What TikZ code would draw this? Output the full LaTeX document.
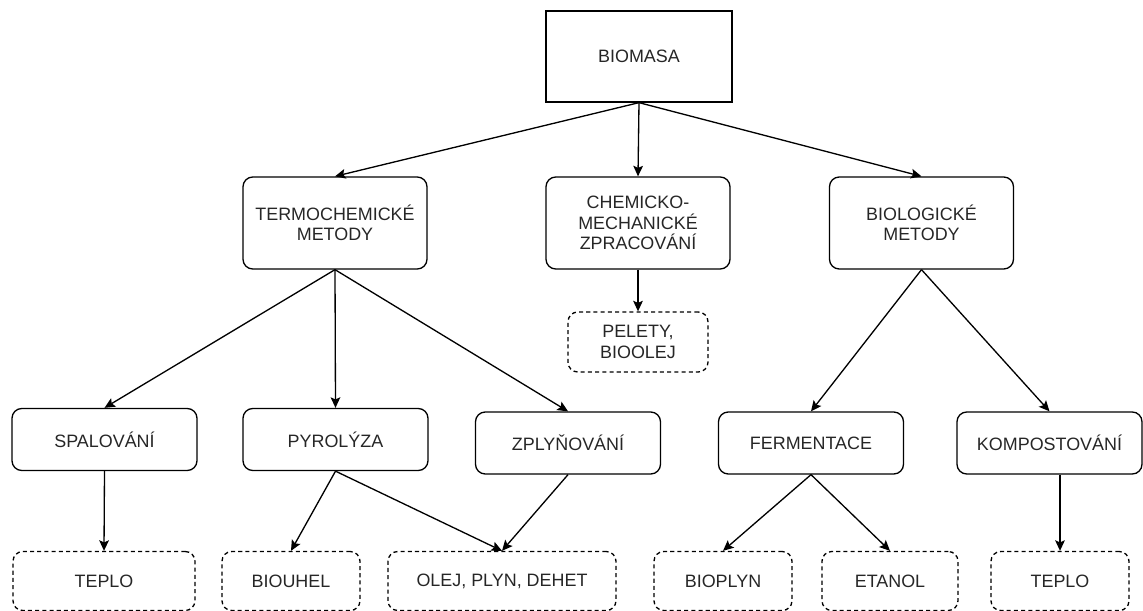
\documentclass[tikz,border=0pt]{standalone}
\usepackage{fontspec}
\setmainfont{Liberation Sans}
\usepackage{tikz}
\usetikzlibrary{arrows.meta}

\begin{document}
\begin{tikzpicture}[x=0.02cm, y=-0.02cm,
        every node/.style={font=\fontsize{10.2pt}{11.6pt}\selectfont, align=center, text=black!85, inner sep=0pt},
        topbox/.style={draw, line width=0.75pt, minimum width=3.72cm, minimum height=1.82cm},
        methodbox/.style={draw, line width=0.75pt, rounded corners=5.5pt, minimum width=3.68cm, minimum height=1.84cm},
        processbox/.style={draw, line width=0.75pt, rounded corners=5.5pt, minimum width=3.7cm, minimum height=1.24cm},
        productbox/.style={draw, dashed, dash pattern=on 2.3pt off 1.8pt, line width=0.75pt, rounded corners=5.5pt, minimum width=2.76cm, minimum height=1.18cm},
        arr/.style={-{Stealth[length=6pt, width=5.5pt, inset=1.2pt]}, line width=0.75pt}]
        \useasboundingbox (0,0) rectangle (1143,611);
        % top
        \node[topbox] (biomasa) at (639,56.5) {BIOMASA};
        % methods
        \node[methodbox] (termo) at (335,223) {TERMOCHEMICKÉ\\METODY};
        \node[methodbox] (chem) at (638,223) {CHEMICKO-\\MECHANICKÉ\\ZPRACOVÁNÍ};
        \node[methodbox] (biol) at (921.5,223) {BIOLOGICKÉ\\METODY};
        \node[productbox, minimum width=2.8cm, minimum height=1.2cm] (pelety) at (638,342) {PELETY,\\BIOOLEJ};
        % processes
        \node[processbox] (spal) at (104.5,439.5) {SPALOVÁNÍ};
        \node[processbox] (pyro) at (335.5,439.5) {PYROLÝZA};
        \node[processbox] (zply) at (568,443) {ZPLYŇOVÁNÍ};
        \node[processbox] (ferm) at (811,443) {FERMENTACE};
        \node[processbox] (komp) at (1049.5,443) {KOMPOSTOVÁNÍ};
        % products
        \node[productbox, minimum width=3.64cm] (teplo) at (104,581) {TEPLO};
        \node[productbox] (biouhel) at (291,581) {BIOUHEL};
        \node[productbox, minimum width=4.56cm] (olej) at (502,581) {OLEJ, PLYN, DEHET};
        \node[productbox] (bioplyn) at (723,581) {BIOPLYN};
        \node[productbox, minimum width=2.72cm] (etanol) at (890,581) {ETANOL};
        \node[productbox] (teplob) at (1060,581) {TEPLO};
        % connectors
        \draw[arr] (biomasa.south) -- (termo.north);
        \draw[arr] (biomasa.south) -- (chem.north);
        \draw[arr] (biomasa.south) -- (biol.north);
        \draw[arr] (chem.south) -- (pelety.north);
        \draw[arr] (termo.south) -- (spal.north);
        \draw[arr] (termo.south) -- (pyro.north);
        \draw[arr] (termo.south) -- (zply.north);
        \draw[arr] (biol.south) -- (ferm.north);
        \draw[arr] (biol.south) -- (komp.north);
        \draw[arr] (spal.south) -- (teplo.north);
        \draw[arr] (pyro.south) -- (biouhel.north);
        \draw[arr] (pyro.south) -- (olej.north);
        \draw[arr] (zply.south) -- (olej.north);
        \draw[arr] (ferm.south) -- (bioplyn.north);
        \draw[arr] (ferm.south) -- (etanol.north);
        \draw[arr] (komp.south -| teplob.north) -- (teplob.north);
\end{tikzpicture}
\end{document}
